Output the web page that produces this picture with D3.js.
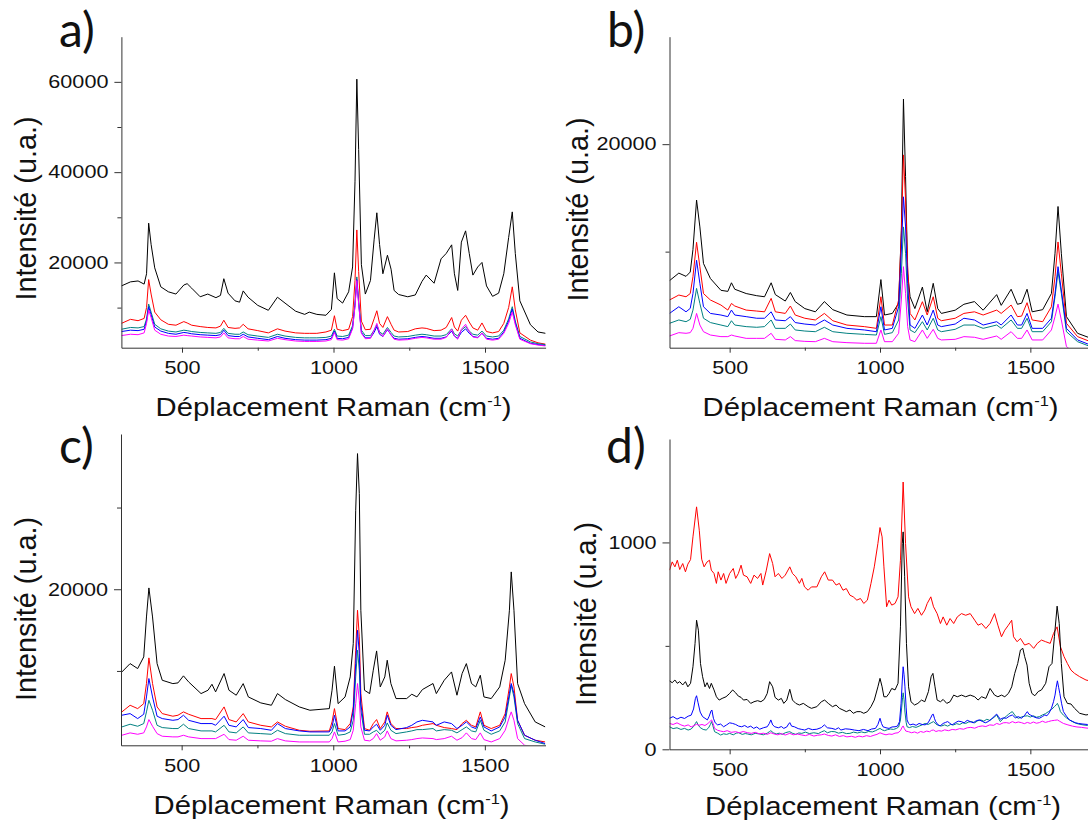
<!DOCTYPE html>
<html>
<head>
<meta charset="utf-8">
<script src="https://cdn.jsdelivr.net/npm/d3@7"></script>
<style>
  body { margin: 0; background: #fff; }
  svg { display: block; }
  text { font-family: "Liberation Sans", Arimo, Arial, sans-serif; fill: #111; }
</style>
</head>
<body>
<svg id="chart" width="1088" height="821"></svg>
<script>
// ---------------- DATA ----------------
const xTicksMajor = [500, 1000, 1500];
const xTicksMinor = [750, 1250];
const panelLetters = ["a)", "b)", "c)", "d)"];
const xTitle = "Déplacement Raman (cm";
const xTitleSup = "-1";
const yTitle = "Intensité (u.a.)";

// Panel a
const gridA = [300,330,355,375,383,390,398,410,430,455, 480,506,517,532,560,585,612,627,638,652, 675,690,702,718,750,785,815,840,875,905, 920,945,975,993,1003,1012,1030,1050,1063,1071, 1077,1083,1092,1105,1122,1134,1143,1152,1163,1178, 1190,1200,1215,1245,1270,1292,1306,1332,1355,1372, 1390,1399,1410,1422,1436,1448,1460,1476,1490,1505, 1525,1545,1562,1578,1590,1600,1615,1650,1675,1700];
const aBlack = [14800,15700,15900,15200,17500,28700,24000,18800,14600,13500, 13000,15000,15300,14300,12400,13000,12200,12700,16400,13200, 11500,11200,13700,12300,10500,9400,12300,11000,9200,8500, 9000,8500,8300,9600,17700,12000,11000,13500,19000,38000, 60600,45000,19500,13000,16000,25000,31000,24000,17500,21600, 18500,13800,12900,12400,12800,15800,17200,15400,20800,22000, 23900,17500,13800,24500,27000,22000,17200,19000,20000,14800, 12500,13200,17500,25500,31200,22000,11500,6200,4600,4300];
const aRed = [6500,7400,7100,7600,10000,16200,13000,9000,7300,6300, 6100,6900,6600,6100,5800,5600,5500,5900,7200,5600, 5400,5500,6300,5300,4900,4400,5300,4800,4400,4300, 4300,4300,4600,5000,8200,5200,4900,5200,8000,16000, 27200,18000,7000,5100,5200,7500,9300,6500,5600,8000, 6300,5000,4600,4700,5300,5500,5400,4900,5000,5600, 7800,5700,4800,7200,8300,6800,5500,5000,6600,4700, 4400,4700,6500,10000,14600,9500,4400,2800,2200,1900];
const aTeal = [5200,5600,5500,5800,7500,10800,9000,6300,5300,4800, 4600,5000,4900,4700,4500,4400,4300,4500,5400,4300, 4100,4100,4600,4000,3700,3400,4100,3700,3400,3300, 3300,3300,3400,3700,5200,3700,3600,3900,6000,11000, 16800,11500,5000,3800,3800,5000,6200,4600,4100,5600, 4500,3700,3500,3600,3900,4100,4000,3700,3700,4000, 5300,4200,3700,5000,5800,4800,4100,3900,4800,3700, 3500,3700,5000,7500,10200,7000,3600,2400,2000,1800];
const aBlue = [4700,5000,4900,5200,7000,10200,8400,5700,4800,4300, 4100,4500,4400,4200,4000,3900,3800,4000,5000,3800, 3600,3600,4100,3500,3200,2900,3600,3200,2900,2800, 2800,2800,2900,3200,4800,3200,3100,3400,5500,10500, 16200,11000,4500,3300,3300,4500,5800,4100,3600,5100, 4000,3200,3000,3100,3400,3600,3500,3200,3200,3500, 4800,3700,3200,4500,5300,4300,3600,3400,4300,3200, 3000,3200,4600,7000,9700,6600,3200,2100,1800,1600];
const aMagenta = [3800,4100,4000,4400,6500,9500,7800,5000,4100,3700, 3600,3900,3800,3700,3500,3400,3300,3500,4400,3300, 3100,3100,3600,3000,2800,2600,3200,2900,2600,2500, 2500,2500,2600,2900,4500,2900,2800,3100,5300,10300, 16000,10800,4300,3100,3200,5000,6500,4400,3600,5300, 3900,3000,2800,2900,3200,3400,3300,3000,3000,3400, 5200,3700,3000,5200,6300,4700,3500,3300,4400,3000, 2800,3000,4300,6500,9000,6200,3000,2000,1700,1500];

// Panel b
const gridB = [300,331,355,369,378,390,401,413,436,471, 494,506,517,555,590,616,638,652,685,702, 718,750,785,815,843,890,948,988,1003,1015, 1041,1062,1071,1078,1085,1092,1100,1116,1141,1157, 1177,1192,1204,1250,1279,1314,1343,1388,1403,1436, 1457,1471,1489,1506,1541,1570,1582,1592,1603,1620, 1657,1700];
const bBlack = [7300,8000,7700,8100,10200,14800,12300,8900,7500,6400, 6300,7100,6500,6100,5900,5800,7100,6000,5400,6200, 5350,4700,4400,5350,4600,4100,3950,3950,7400,4100, 4250,5200,12000,24200,17000,8000,5800,4700,6700,4400, 7050,4700,4250,4550,5100,5350,4550,6000,5000,6500, 5100,5200,6500,4400,4600,6100,9850,14200,9850,3950, 2400,1950];
const bRed = [5500,5960,5800,6100,7670,10870,8600,6100,5500,5030, 4560,5180,4940,4560,4470,4400,5650,4400,4250,4940, 4100,3800,3640,4250,3570,3170,3020,2860,5800,3170, 3170,5500,11700,19000,14800,8600,4250,3640,5340,4100, 5800,3800,3570,3800,4250,4400,4100,4560,4250,5030, 3950,4000,5250,3640,3480,4870,7670,10900,7980,3330, 2090,1620];
const bTeal = [3330,3640,3480,3700,4560,6580,5180,3800,3400,3170, 3020,3570,3170,3020,2960,3020,3640,2860,2860,3260, 2710,2610,2550,2960,2550,2400,2300,2240,3950,2300, 2460,3640,7980,12300,9850,5500,2710,2460,3480,2710, 3800,2710,2550,2770,3170,3170,2860,3170,2860,3640, 2860,2860,3800,2550,2550,3480,5810,8140,6120,2550, 1620,1160];
const bBlue = [4250,4870,4400,4720,6100,9200,7050,4870,4250,4100, 3950,4560,4100,3950,3800,3800,4400,3640,3570,3950, 3400,3260,3170,3640,3170,2860,2710,2550,4870,2710, 2860,4870,10150,15100,12300,7050,3170,2860,4100,3170, 4560,3170,3020,3260,3800,3640,3170,3480,3170,4100, 3170,3170,4250,2860,2860,3800,6100,8600,6430,2860, 1780,1310];
const bMagenta = [2150,2460,2400,2460,2860,4250,3170,2550,2240,2090, 2090,2240,2150,1930,1930,1930,2400,1840,1780,2090, 1720,1650,1620,1930,1620,1530,1470,1470,2710,1620, 1620,2400,5500,8600,6120,3020,1780,1620,2710,1930, 2770,1930,1780,1840,2090,2030,1840,2150,1840,2550, 1930,1930,2710,1780,1780,2710,3950,5120,3640,1160, 380,70];

// Panel c
const gridC = [303,330,355,375,384,392,404,419,436,471, 488,506,523,564,587,600,612,640,656,680, 703,720,761,796,816,842,888,923,987,996, 1004,1016,1039,1056,1066,1074,1080,1086,1091,1103, 1120,1132,1143,1155,1170,1178,1190,1207,1242,1259, 1276,1294,1329,1340,1366,1390,1408,1425,1439,1456, 1470,1485,1497,1521,1549,1567,1581,1587,1596,1608, 1631,1666,1699];
const cBlack = [9880,10900,10290,11720,16610,20160,16610,10900,8860,8450, 8540,9400,8660,7230,7640,8370,7440,9680,7640,7030, 8450,6820,6090,5800,7230,6500,5600,5190,5390,7640, 10580,6000,6820,9270,13350,29670,36600,31700,17430,7640, 7230,10090,12450,8050,9270,11310,8460,6620,6620,7150, 6820,7720,8460,7230,8860,9880,7030,9680,10900,8460, 8050,9470,6820,6620,8050,11310,17430,22120,17430,8460, 6000,3760,3150];
const cRed = [4990,5800,5390,6000,8460,11600,8460,5600,4780,4460, 4580,4990,4700,4170,4170,4170,4050,5600,4050,3760, 4780,3760,3350,3150,3760,3230,2740,2620,2660,3760, 5390,2950,2820,3560,5600,12540,17430,14170,7230,2950, 2740,3560,4050,2950,3760,4990,3560,2950,2950,3070, 3150,3350,3560,3350,3070,2950,2820,3560,3960,3350, 3150,4990,3350,2950,3350,4780,8050,9680,8050,3960, 2130,1520,1310];
const cTeal = [3150,3480,3230,3560,4990,6410,5190,3350,3070,2950, 2950,3480,2950,2660,2660,2660,2540,3350,2540,2420, 3150,2420,2330,2250,2740,2330,2130,2130,2130,2540, 3560,2130,2250,2540,3960,9270,12540,10090,5190,2250, 2250,2540,2740,2250,2740,3640,2740,2330,2540,2660, 2820,2820,2950,2660,2820,2740,2420,2820,3150,2660, 2540,3960,2740,2250,2660,3760,6820,8250,6820,3560, 1720,1310,1030];
const cBlue = [4580,4780,4170,4700,6820,9070,6820,4460,4170,3960, 4050,4580,3960,3560,3560,3560,3350,4460,3350,3150, 4050,3070,2950,2740,3560,2950,2660,2540,2540,3150, 4580,2660,2660,3150,5190,10900,14980,12130,6000,2740, 2660,3150,3480,2740,3350,4580,3350,2820,3070,3350, 3760,3960,3760,3350,3760,3560,2950,3350,3760,3150, 2950,4370,3150,2660,3150,4370,7230,8460,7230,3960, 2130,1520,1110];
const cMagenta = [2130,2420,2250,2420,3150,4050,3230,2330,2010,1930, 1930,2130,1930,1720,1720,1720,1720,2250,1600,1520, 2010,1520,1440,1400,1720,1440,1310,1310,1310,1720, 2540,1310,1400,1600,2740,6000,8460,6410,3150,1520, 1440,1720,2330,1520,1930,2660,1720,1440,1520,1600, 1720,1800,1720,1600,1720,2010,1520,1840,2420,1720, 1600,2420,1600,1310,1720,2740,4370,4990,3960,1720, 910,620,500];

// Panel d (noisy, each series on its own wavenumber list)
const dBlackX = [300,309,318,326,334,344,353,361,370,378, 385,390,396,403,410,418,425,433,439,448, 456,465,475,488,500,510,520,529,538,546, 558,570,581,593,604,615,625,633,643,651, 662,672,680,690,700,709,720,732,745,761, 772,790,805,816,828,842,854,865,877,888, 900,911,923,935,946,958,970,981,993,1000, 1007,1013,1022,1030,1039,1050,1060,1068,1074,1077, 1082,1088,1095,1103,1115,1126,1138,1149,1161,1170, 1176,1183,1190,1201,1210,1222,1233,1245,1257,1271, 1285,1300,1315,1326,1338,1352,1366,1381,1392,1404, 1415,1427,1438,1448,1458,1467,1475,1481,1489,1496, 1505,1515,1526,1537,1551,1562,1572,1580,1589,1596, 1603,1612,1623,1635,1647,1664,1685,1700];
const dBlack = [331,322,335,319,327,311,327,302,319,399, 512,624,576,415,351,302,322,294,319,287, 254,238,246,254,270,287,273,257,251,238, 241,222,230,235,230,241,270,327,302,251, 238,246,222,238,290,238,222,214,222,206, 198,206,230,238,222,206,214,198,190,182, 190,174,182,182,174,182,206,238,302,343, 302,254,254,270,294,287,319,592,995,1051, 834,512,302,230,214,222,238,230,279,351, 367,302,238,230,241,222,230,262,254,262, 254,262,254,238,254,246,294,262,254,262, 254,270,302,367,415,480,488,448,407,319, 270,259,279,287,319,399,415,544,692,608, 415,254,222,219,198,174,166,170];
const dRedX = [300,309,318,326,334,344,353,361,370,378, 390,399,407,415,425,433,439,448,456,462, 471,480,488,500,512,520,529,538,546,558, 570,581,593,604,610,622,633,643,651,662, 674,685,700,709,720,732,740,749,761,772, 790,805,816,828,842,854,865,877,888,900, 911,923,935,946,958,970,981,993,1000,1007, 1013,1022,1030,1039,1050,1060,1068,1077,1085,1095, 1103,1115,1126,1138,1149,1157,1169,1178,1190,1201, 1210,1222,1233,1245,1257,1271,1285,1300,1315,1326, 1338,1352,1366,1381,1392,1404,1415,1427,1438,1444, 1456,1467,1481,1496,1511,1523,1537,1551,1566,1577, 1589,1600,1612,1623,1635,1647,1664,1685,1700];
const dRed = [866,906,882,914,869,898,858,895,917,1027, 1172,1059,919,882,906,914,866,850,802,858, 818,850,802,850,874,826,850,890,842,834, 802,842,826,850,794,866,946,898,834,850, 826,842,882,850,834,802,826,785,769,785, 785,834,858,818,818,794,802,769,777,745, 737,721,729,705,721,802,882,995,1072,1027, 882,689,721,697,705,737,914,1292,995,737, 689,656,681,648,673,705,737,689,656,608, 640,600,632,608,640,656,648,656,624,600, 608,584,608,656,600,544,576,600,624,544, 520,536,504,512,488,512,528,520,512,560, 592,496,448,415,383,367,351,335,330];
const dBlueX = [300,312,325,338,350,362,372,380,386,390, 395,402,410,418,426,432,438,441,446,452, 460,470,480,490,500,510,520,530,540,550, 560,570,580,590,600,612,625,632,637,643, 650,662,672,680,690,696,700,706,715,728, 740,750,762,775,790,805,815,825,840,852, 862,870,885,900,915,930,945,960,972,985, 993,1000,1005,1010,1020,1030,1040,1050,1058,1065, 1070,1074,1077,1080,1083,1087,1090,1095,1100,1110, 1120,1130,1140,1150,1160,1168,1174,1177,1181,1185, 1192,1200,1210,1218,1225,1232,1240,1250,1260,1270, 1280,1290,1300,1310,1320,1330,1340,1350,1360,1370, 1380,1388,1394,1400,1410,1420,1430,1440,1450,1460, 1470,1480,1486,1490,1495,1500,1510,1520,1530,1540, 1548,1555,1562,1570,1577,1582,1586,1590,1594,1598, 1604,1610,1620,1630,1640,1650,1660,1675,1690,1700];
const dBlue = [150,158,146,155,149,160,165,195,245,259, 225,180,158,150,142,160,185,190,150,128, 118,122,109,118,128,125,120,112,109,115, 106,112,101,108,97,104,109,125,142,118, 109,104,110,101,108,122,129,112,109,100, 96,93,101,95,97,105,118,104,101,96, 104,93,99,97,93,90,96,90,98,101, 120,150,125,109,104,101,108,109,112,134, 220,330,399,360,302,200,142,125,118,122, 116,125,120,118,128,150,168,170,150,134, 120,113,125,130,134,126,118,128,136,134, 128,140,134,128,138,142,135,128,134,145, 160,170,158,145,152,150,160,166,152,158, 150,162,175,182,170,166,158,152,150,158, 166,162,175,198,230,262,300,331,300,270, 220,182,160,142,135,128,125,122,120,118];
const dTealX = [300,312,325,338,350,362,372,380,386,390, 395,402,412,422,430,436,440,444,450,460, 470,480,490,500,512,522,530,542,552,560, 572,585,600,612,625,632,637,645,655,665, 675,685,695,700,708,720,730,740,752,765, 780,795,805,815,825,838,850,862,875,888, 900,912,925,938,950,962,975,985,993,1000, 1007,1015,1025,1035,1045,1055,1062,1068,1072,1075, 1077,1080,1083,1087,1090,1098,1108,1120,1130,1140, 1150,1160,1170,1178,1186,1195,1205,1215,1225,1235, 1245,1255,1265,1275,1285,1295,1305,1315,1325,1335, 1345,1355,1365,1375,1382,1388,1394,1400,1410,1420, 1428,1435,1440,1446,1452,1460,1470,1480,1490,1500, 1510,1520,1530,1540,1550,1560,1570,1580,1586,1590, 1595,1600,1610,1620,1630,1645,1660,1675,1690,1700];
const dTeal = [109,100,104,96,101,93,98,110,125,134, 118,105,96,93,104,120,134,115,85,78, 69,75,72,77,70,78,80,72,76,74, 70,77,74,70,78,85,90,80,74,78, 72,80,84,85,78,72,79,77,83,76, 80,76,84,90,80,86,85,78,82,76, 77,83,79,84,80,86,84,90,96,101, 94,90,95,98,96,101,108,142,200,250, 273,240,180,130,109,105,110,106,112,118, 125,120,128,134,122,115,113,118,112,120, 118,124,120,128,125,132,134,128,138,142, 136,145,140,150,158,166,150,134,148,160, 170,178,182,170,158,150,156,160,162,156, 162,155,158,166,172,182,192,206,215,222, 205,182,165,152,142,130,122,118,115,113];
const dMagentaX = [300,312,325,338,350,362,372,382,390,398, 408,418,428,435,440,445,450,460,470,480, 492,505,520,532,545,560,572,585,600,612, 625,637,648,660,672,685,700,712,725,740, 752,765,780,792,805,815,828,840,852,865, 878,890,905,918,930,942,955,968,980,990, 1000,1010,1020,1030,1040,1050,1060,1068,1074,1077, 1081,1086,1095,1105,1115,1125,1135,1145,1155,1165, 1172,1178,1186,1195,1205,1215,1228,1240,1252,1265, 1278,1290,1302,1315,1328,1340,1352,1365,1378,1388, 1398,1410,1420,1430,1440,1450,1460,1470,1480,1490, 1500,1510,1520,1530,1540,1550,1560,1570,1580,1590, 1598,1610,1625,1640,1655,1670,1685,1700];
const dMagenta = [125,120,128,118,112,118,108,115,121,116, 120,115,125,135,142,125,101,92,88,85, 90,82,85,80,86,80,77,82,74,78, 72,80,74,70,76,69,77,70,74,69, 66,72,64,68,70,74,67,64,70,62, 66,60,63,58,64,60,66,62,68,72, 80,74,70,74,72,78,80,90,108,113, 100,88,85,80,84,78,86,82,88,85, 92,93,86,90,88,94,90,96,94,100, 97,104,106,102,110,113,110,118,116,125, 120,128,129,126,134,128,132,129,124,130, 125,132,126,129,136,130,134,138,140,142, 135,125,118,112,108,106,103,101];

const seriesColors = { black: "#000000", red: "#ff0000", teal: "#008080", blue: "#0000ff", magenta: "#ff00ff" };

// ---------------- PANELS ----------------
const panels = [
  { id: "a", letter: panelLetters[0],
    series: [ {x: gridA, v: aBlack, c: "black"}, {x: gridA, v: aRed, c: "red"}, {x: gridA, v: aTeal, c: "teal"}, {x: gridA, v: aBlue, c: "blue"}, {x: gridA, v: aMagenta, c: "magenta"} ],
    yMajor: [20000, 40000, 60000], yMinor: [10000, 30000, 50000],
    yDomain: [1119, 70000],
    layout: { xr: [121.4, 545.6], yr: [347.7, 36.7], letter: [59, 47], yt: [36, 208.5], xt: [333.5, 415.6] } },
  { id: "b", letter: panelLetters[1],
    series: [ {x: gridB, v: bBlack, c: "black"}, {x: gridB, v: bRed, c: "red"}, {x: gridB, v: bTeal, c: "teal"}, {x: gridB, v: bBlue, c: "blue"}, {x: gridB, v: bMagenta, c: "magenta"} ],
    yMajor: [20000], yMinor: [10000],
    yDomain: [1060, 30000],
    layout: { xr: [669.5, 1090.5], yr: [347.7, 36.7], letter: [607, 47], yt: [588, 209.5], xt: [880.5, 415.7] } },
  { id: "c", letter: panelLetters[2],
    series: [ {x: gridC, v: cBlack, c: "black"}, {x: gridC, v: cRed, c: "red"}, {x: gridC, v: cTeal, c: "teal"}, {x: gridC, v: cBlue, c: "blue"}, {x: gridC, v: cMagenta, c: "magenta"} ],
    yMajor: [20000], yMinor: [10000, 30000],
    yDomain: [900, 39000],
    layout: { xr: [121, 545.5], yr: [745.3, 434], letter: [59, 463], yt: [36, 609], xt: [331.6, 814] } },
  { id: "d", letter: panelLetters[3],
    series: [ {x: dRedX, v: dRed, c: "red"}, {x: dBlackX, v: dBlack, c: "black"}, {x: dTealX, v: dTeal, c: "teal"}, {x: dBlueX, v: dBlue, c: "blue"}, {x: dMagentaX, v: dMagenta, c: "magenta"} ],
    yMajor: [0, 1000], yMinor: [500],
    yDomain: [0, 1500],
    layout: { xr: [669.5, 1090.5], yr: [749.3, 439], letter: [606, 463], yt: [596, 614], xt: [883, 815] } }
];

const svg = d3.select("#chart");
const defs = svg.append("defs");
const AXIS = "#333";

function stretch(sel, k) {
  sel.each(function () {
    const L = this.getComputedTextLength();
    this.setAttribute("textLength", L * k);
    this.setAttribute("lengthAdjust", "spacingAndGlyphs");
  });
}

function styleAxis(g) {
  g.attr("font-family", null).attr("font-size", null);
  g.select(".domain").attr("stroke", AXIS).attr("stroke-width", 1);
  g.selectAll(".tick line").attr("stroke", AXIS).attr("stroke-width", 1);
  g.selectAll(".tick text").attr("fill", "#111").style("font-size", "18px");
}

panels.forEach(p => {
  const L = p.layout;
  const x = d3.scaleLinear().domain([300, 1700]).range(L.xr);
  const y = d3.scaleLinear().domain(p.yDomain).range(L.yr);
  const g = svg.append("g").attr("class", "panel-" + p.id);

  defs.append("clipPath").attr("id", "clip-" + p.id)
    .append("rect")
    .attr("x", L.xr[0]).attr("y", L.yr[1])
    .attr("width", L.xr[1] - L.xr[0]).attr("height", L.yr[0] - L.yr[1]);

  const lines = g.append("g").attr("clip-path", "url(#clip-" + p.id + ")");
  const line = d3.line().defined(d => d[0] != null && d[1] != null).x(d => x(d[0])).y(d => y(d[1]));
  p.series.forEach(s => {
    const pts = s.v.map((v, j) => [s.x[j], v]);
    lines.append("path")
      .attr("d", line(pts))
      .attr("fill", "none")
      .attr("stroke", seriesColors[s.c])
      .attr("stroke-width", 1)
      .attr("stroke-linejoin", "round");
  });

  // x axis
  const xa = g.append("g").attr("transform", `translate(0,${L.yr[0]})`)
    .call(d3.axisBottom(x).tickValues(xTicksMajor).tickSize(5).tickSizeOuter(0).tickPadding(9).tickFormat(d3.format("d")));
  styleAxis(xa);
  stretch(xa.selectAll(".tick text"), 1.2);
  const xm = g.append("g").attr("transform", `translate(0,${L.yr[0]})`)
    .call(d3.axisBottom(x).tickValues(xTicksMinor).tickSize(3).tickFormat(""));
  xm.select(".domain").remove();
  styleAxis(xm);

  // y axis
  const ya = g.append("g").attr("transform", `translate(${L.xr[0]},0)`)
    .call(d3.axisLeft(y).tickValues(p.yMajor).tickSize(7).tickSizeOuter(0).tickPadding(6).tickFormat(d3.format("d")));
  styleAxis(ya);
  stretch(ya.selectAll(".tick text"), 1.2);
  const ym = g.append("g").attr("transform", `translate(${L.xr[0]},0)`)
    .call(d3.axisLeft(y).tickValues(p.yMinor).tickSize(4).tickFormat(""));
  ym.select(".domain").remove();
  styleAxis(ym);

  // x title
  const xt = g.append("text")
    .attr("x", L.xt[0]).attr("y", L.xt[1])
    .attr("text-anchor", "middle")
    .style("font-size", "25px");
  xt.append("tspan").text(xTitle);
  xt.append("tspan").attr("dy", -10).style("font-size", "14px").text(xTitleSup);
  xt.append("tspan").attr("dy", 10).text(")");
  xt.attr("textLength", 356).attr("lengthAdjust", "spacingAndGlyphs");

  // y title
  g.append("text")
    .attr("transform", `translate(${L.yt[0]},${L.yt[1]}) rotate(-90)`)
    .attr("text-anchor", "middle")
    .style("font-size", "29px")
    .attr("textLength", 184).attr("lengthAdjust", "spacingAndGlyphs")
    .text(yTitle);

  // panel letter
  g.append("text")
    .attr("x", L.letter[0]).attr("y", L.letter[1])
    .style("font-family", "Lato, 'Open Sans', sans-serif")
    .style("font-size", "48px")
    .attr("fill", "#000")
    .text(p.letter);
});
</script>
</body>
</html>
